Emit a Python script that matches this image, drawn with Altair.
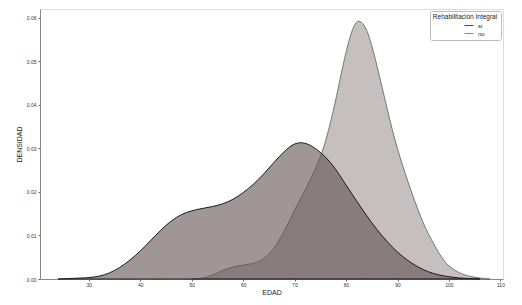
import altair as alt
import pandas as pd

# Densidad estimada - grupo "si"
si_edad = [24, 28, 30, 32, 34, 36, 38, 40, 42, 44, 46, 48, 50, 52, 54, 56, 58, 60, 62, 64,
           66, 68, 70, 72, 74, 76, 78, 80, 82, 84, 86, 88, 90, 92, 94, 96, 98, 100, 102, 104, 106]
si_dens = [0.0000, 0.0002, 0.0003, 0.0006, 0.0013, 0.0026, 0.0043, 0.0064, 0.0088, 0.0113,
           0.0134, 0.0149, 0.0157, 0.0162, 0.0166, 0.0172, 0.0182, 0.0198, 0.0217, 0.0241,
           0.0268, 0.0294, 0.0313, 0.0314, 0.0301, 0.0281, 0.0253, 0.0215, 0.0180, 0.0145,
           0.0113, 0.0085, 0.0061, 0.0042, 0.0027, 0.0016, 0.0009, 0.0005, 0.0002, 0.0001, 0.0000]

# Densidad estimada - grupo "no"
no_edad = [50, 52, 54, 56, 58, 60, 62, 64, 66, 68, 70, 71, 72, 74, 76, 78, 79, 80, 81, 82,
           83, 84, 85, 86, 87, 88, 89, 90, 91, 92, 93, 94, 95, 96, 97, 98, 99, 100, 102, 104, 106, 108]
no_dens = [0.0000, 0.0001, 0.0008, 0.0020, 0.0028, 0.0032, 0.0035, 0.0045, 0.0068, 0.0110,
           0.0158, 0.0182, 0.0203, 0.0250, 0.0310, 0.0410, 0.0470, 0.0522, 0.0567, 0.0594,
           0.0592, 0.0574, 0.0537, 0.0490, 0.0440, 0.0390, 0.0341, 0.0298, 0.0260, 0.0224,
           0.0190, 0.0158, 0.0128, 0.0103, 0.0081, 0.0060, 0.0042, 0.0029, 0.0013, 0.0006,
           0.0002, 0.0000]

grupos = ["si", "no"]
x_ticks = [30, 40, 50, 60, 70, 80, 90, 100, 110]
y_ticks = [0.00, 0.01, 0.02, 0.03, 0.04, 0.05, 0.06]

df = pd.concat([
    pd.DataFrame({"EDAD": si_edad, "DENSIDAD": si_dens, "grupo": "si"}),
    pd.DataFrame({"EDAD": no_edad, "DENSIDAD": no_dens, "grupo": "no"}),
])

FONT = "Liberation Sans"

x = alt.X("EDAD:Q", title="EDAD",
          scale=alt.Scale(domain=[20.5, 110.5], nice=False, zero=False),
          axis=alt.Axis(values=x_ticks, format="d", labelFontSize=5, titleFontSize=7,
                        titleFontWeight="normal", tickSize=2, labelPadding=1, titlePadding=1,
                        grid=False, domainColor="#888", tickColor="#666", labelColor="#333",
                        titleColor="#222"))
y = alt.Y("DENSIDAD:Q", title="DENSIDAD",
          scale=alt.Scale(domain=[0, 0.062], nice=False),
          axis=alt.Axis(values=y_ticks, format=".2f", labelFontSize=5, titleFontSize=7,
                        titleFontWeight="normal", tickSize=2, labelPadding=2, titlePadding=4,
                        grid=False, domainColor="#888", tickColor="#666", labelColor="#333",
                        titleColor="#222"))

stroke = alt.Stroke("grupo:N", sort=grupos,
                    scale=alt.Scale(domain=grupos, range=["#1e1a1a", "#6e6868"]),
                    legend=alt.Legend(title="Rehabilitación Integral", orient="top-right",
                                      offset=2, symbolType="stroke", symbolSize=80,
                                      symbolStrokeWidth=0.8, titleFontSize=6.5,
                                      titleFontWeight="normal", labelFontSize=6,
                                      titleAlign="center", titleAnchor="middle",
                                      strokeColor="#bbb", padding=3, cornerRadius=2,
                                      fillColor="white", rowPadding=-1, titlePadding=0,
                                      symbolOffset=18,
                                      labelColor="#222", titleColor="#222"))

area_no = alt.Chart(df).transform_filter(alt.datum.grupo == "no").mark_area(
    interpolate="basis", fill="#9e9494", fillOpacity=0.6, strokeWidth=0.9
).encode(x=x, y=y, stroke=stroke)

area_si = alt.Chart(df).transform_filter(alt.datum.grupo == "si").mark_area(
    interpolate="basis", fill="#615050", fillOpacity=0.6, strokeWidth=1
).encode(x=x, y=y, stroke=stroke)

chart = alt.layer(area_no, area_si).properties(
    width=463, height=270,
    autosize=alt.AutoSizeParams(type="none"),
    padding={"left": 32, "top": 1, "right": 10, "bottom": 22},
).configure_view(
    stroke="#888", strokeWidth=1.2
).configure(font=FONT)

chart.save("out.html", embed_options={"renderer": "svg", "actions": False})
